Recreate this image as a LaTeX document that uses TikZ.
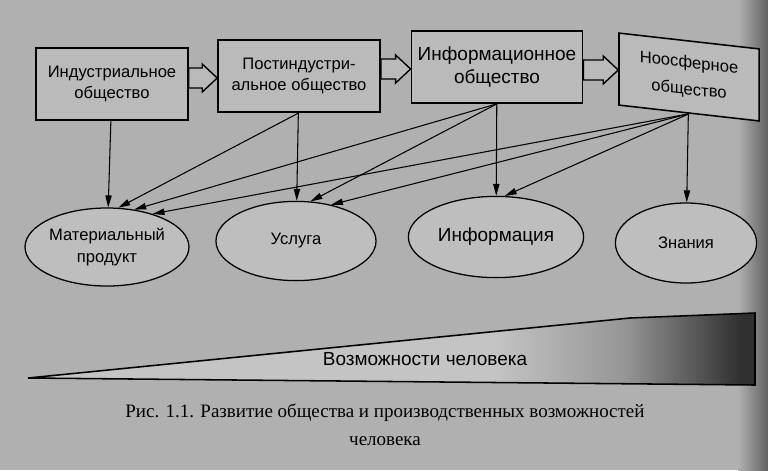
\documentclass[tikz,border=0pt]{standalone}
\usepackage{fontspec}
\setmainfont{Liberation Sans}
\newfontfamily\capfont{Liberation Serif}
\usetikzlibrary{arrows.meta,shapes.geometric,calc}
\definecolor{pagegray}{RGB}{176,176,176}
\definecolor{boxgray}{RGB}{186,186,186}
\definecolor{ovalgray}{RGB}{190,190,190}
\definecolor{wedgelight}{RGB}{196,196,196}
\definecolor{wedgemid}{RGB}{150,150,150}
\definecolor{wedgedark}{RGB}{48,48,48}
\pgfdeclarehorizontalshading{wedgeshade}{100bp}{color(0bp)=(wedgelight); color(57bp)=(wedgelight); color(66bp)=(wedgemid); color(74bp)=(wedgedark); color(100bp)=(wedgedark)}
\tikzset{bx/.append style={draw, line width=1.1pt, fill=boxgray, minimum height=1.8cm, align=center, inner sep=1pt, font=\fontsize{11.8}{15.5}\selectfont}}
\tikzset{ov/.append style={draw, ellipse, line width=0.9pt, fill=ovalgray, inner sep=0pt, align=center, font=\fontsize{11.8}{15.5}\selectfont}}
\tikzset{ar/.append style={-{Triangle[length=8.5pt,width=4.5pt]}, line width=0.75pt}}
\tikzset{blk/.append style={draw, line width=1pt, fill=boxgray, to path={($(\tikztostart)+(0,-10)$) -- ($(\tikztotarget)+(-15,-10)$) -- ($(\tikztotarget)+(-15,-14)$) -- (\tikztotarget) -- ($(\tikztotarget)+(-15,14)$) -- ($(\tikztotarget)+(-15,10)$) -- ($(\tikztostart)+(0,10)$) -- cycle}}}

\begin{document}
\begin{tikzpicture}[x=0.025cm, y=-0.025cm]
                \useasboundingbox (0,0) rectangle (768,470);
                \fill[pagegray] (0,0) rectangle (768,470);
                \shade[left color=pagegray, right color=pagegray!55!black] (738,0) rectangle (768,470);
                % societies
                \node[bx, minimum width=3.8cm] (ind) at (112,84) {Индустриальное\\общество};
                \node[bx, minimum width=4.05cm] (post) at (299,76) {Постиндустри-\\альное общество};
                \node[bx, minimum width=4.28cm, font=\fontsize{13.5}{16}\selectfont] (inf) at (497,67) {Информационное\\общество};
                \begin{scope}[shift={(689,77)}, yslant=-0.113]
                \node[bx, transform shape, minimum width=3.5cm, font=\fontsize{11.8}{19}\selectfont] (noos) at (0,0) {Ноосферное\\общество};
                \end{scope}
                % products
                \node[ov, minimum width=3.75cm, minimum height=1.95cm] (mat) at (107,247) {Материальный\\продукт};
                \node[ov, minimum width=4.0cm, minimum height=1.98cm] (usl) at (296,241) {Услуга};
                \node[ov, minimum width=4.38cm, minimum height=2.03cm, font=\fontsize{13.5}{16}\selectfont] (info) at (496,237) {Информация};
                \node[ov, minimum width=3.53cm, minimum height=2.0cm] (zn) at (686,243) {Знания};
                % transitions
                \path (ind.east|-0,78) edge[blk] (post.west|-0,78);
                \path (post.east|-0,69) edge[blk] (inf.west|-0,69);
                \path (inf.east|-0,70) edge[blk] (noos.west|-0,70);
                % outputs
                \path (ind) edge[ar] (mat);
                \path (post) edge[ar] (usl);
                \path (post.south) edge[ar] (mat.74);
                \path (inf) edge[ar] (info);
                \path (inf.south) edge[ar] (mat.54) edge[ar] (usl.70);
                \path (noos) edge[ar] (zn);
                \path (noos.south) edge[ar] (mat.36) edge[ar] (usl.46) edge[ar] (info.78);
                % capabilities
                \shade[shading=wedgeshade, draw, line width=1.1pt] (28,378) -- (630,318) -- (755,313) -- (755,385) -- cycle;
                \node[font=\fontsize{13.5}{16}\selectfont] (cap) at (425,359) {Возможности человека};
                \node[align=center, font=\capfont\fontsize{13.5}{20}\selectfont] (fig) at (385,425) {Рис. 1.1. Развитие общества и производственных возможностей\\человека};
            \end{tikzpicture}
\end{document}
